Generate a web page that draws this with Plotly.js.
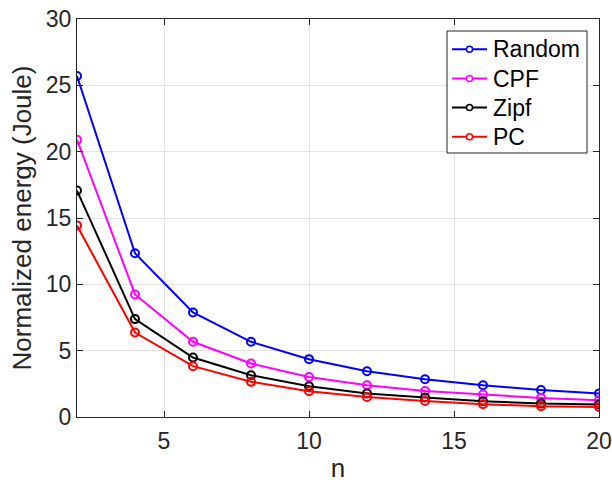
<!DOCTYPE html>
<html><head><meta charset="utf-8">
<script src="https://cdn.plot.ly/plotly-3.0.1.min.js"></script>
<style>html,body{margin:0;padding:0;background:#fff}#c{width:612px;height:483px}</style>
</head><body><div id="c"></div>
<script>
const n = [2, 4, 6, 8, 10, 12, 14, 16, 18, 20];
const randomE = [25.7, 12.34, 7.88, 5.67, 4.36, 3.45, 2.85, 2.39, 2.04, 1.77];
const cpfE = [20.9, 9.24, 5.67, 4.03, 3.02, 2.39, 1.96, 1.69, 1.44, 1.26];
const zipfE = [17.07, 7.38, 4.48, 3.15, 2.32, 1.77, 1.47, 1.19, 1.01, 0.94];
const pcE = [14.43, 6.37, 3.83, 2.65, 1.94, 1.51, 1.21, 0.96, 0.81, 0.76];
const names = ['Random', 'CPF', 'Zipf', 'PC'];
const colors = ['#0000ff', '#ff00ff', '#000000', '#ff0000'];
const series = [randomE, cpfE, zipfE, pcE];
const FONT = 'Liberation Sans, Arial, sans-serif';

const W = 612, H = 483, ML = 77, MR = 13, MT = 19, MB = 66;
const PW = W - ML - MR, PH = H - MT - MB;
const px = p => (p - ML) / PW;
const py = p => (H - MB - p) / PH;

const traces = series.map((y, i) => ({
  x: n, y: y, name: names[i], type: 'scatter', mode: 'lines+markers',
  showlegend: false,
  line: {color: colors[i], width: 2},
  marker: {symbol: 'circle-open', size: 8, color: colors[i], line: {width: 2, color: colors[i]}}
}));

// custom legend (box, sample lines, markers, labels) in paper coordinates
const shapes = [{type: 'rect', xref: 'paper', yref: 'paper',
  x0: px(447), x1: px(587), y0: py(31), y1: py(153),
  fillcolor: '#ffffff', line: {color: '#262626', width: 1}, layer: 'above'}];
const annotations = [];
const rowY = [49.3, 78.5, 107.5, 136.7];
names.forEach((nm, i) => {
  shapes.push({type: 'line', xref: 'paper', yref: 'paper',
    x0: px(452), x1: px(487), y0: py(rowY[i]), y1: py(rowY[i]),
    line: {color: colors[i], width: 2}, layer: 'above'});
  shapes.push({type: 'circle', xref: 'paper', yref: 'paper',
    x0: px(466.5), x1: px(472.5), y0: py(rowY[i] + 3), y1: py(rowY[i] - 3),
    fillcolor: '#ffffff', line: {color: colors[i], width: 1.5}, layer: 'above'});
  annotations.push({xref: 'paper', yref: 'paper', x: px(491), y: py(rowY[i]),
    xanchor: 'left', yanchor: 'middle', showarrow: false, text: nm,
    font: {family: FONT, size: 23, color: '#000'}});
});

const axisCommon = {
  showline: true, linecolor: '#262626', linewidth: 1, mirror: 'ticks',
  ticks: 'inside', ticklen: 6, tickcolor: '#262626',
  showgrid: true, gridcolor: '#e3e3e3', gridwidth: 1, zeroline: false,
  tickfont: {family: FONT, size: 23, color: '#262626'}
};

const layout = {
  width: W, height: H,
  margin: {l: ML, r: MR, t: MT, b: MB},
  paper_bgcolor: '#ffffff', plot_bgcolor: '#ffffff',
  showlegend: false,
  shapes: shapes,
  annotations: annotations,
  xaxis: Object.assign({}, axisCommon, {
    range: [2, 20], tickvals: [5, 10, 15, 20], ticklabelstandoff: 3,
    title: {text: 'n', font: {family: FONT, size: 26, color: '#262626'}, standoff: 6}
  }),
  yaxis: Object.assign({}, axisCommon, {
    range: [0, 30], tickvals: [0, 5, 10, 15, 20, 25, 30],
    title: {text: 'Normalized energy (Joule)', font: {family: FONT, size: 26, color: '#262626'}, standoff: 6}
  })
};

Plotly.newPlot('c', traces, layout, {staticPlot: true, displayModeBar: false});
</script></body></html>
